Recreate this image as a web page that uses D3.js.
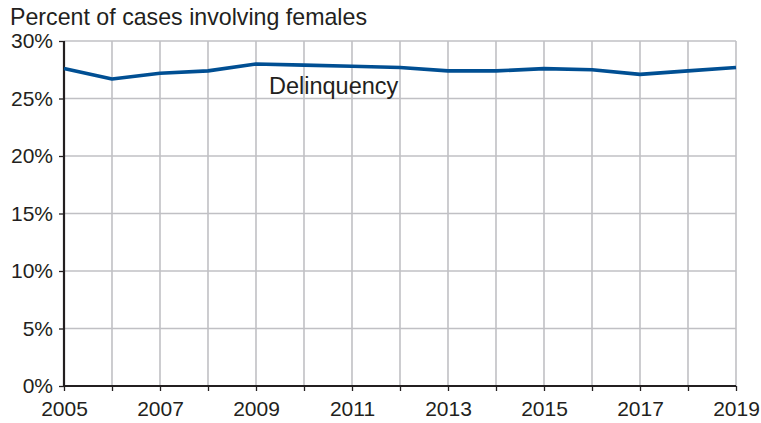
<!DOCTYPE html>
<html>
<head>
<meta charset="utf-8">
<script src="https://cdn.jsdelivr.net/npm/d3@7"></script>
<style>
  html, body { margin: 0; padding: 0; background: #fff; }
  svg { display: block; }
  text { font-family: "Liberation Sans", Arial, Helvetica, sans-serif; fill: #231f20; }
</style>
</head>
<body>
<svg id="chart" width="761" height="423"></svg>
<script>
const years = [2005, 2006, 2007, 2008, 2009, 2010, 2011, 2012, 2013, 2014, 2015, 2016, 2017, 2018, 2019];
const delinquency = [27.6, 26.7, 27.2, 27.4, 28.0, 27.9, 27.8, 27.7, 27.4, 27.4, 27.6, 27.5, 27.1, 27.4, 27.7];
const yTicks = [0, 5, 10, 15, 20, 25, 30];
const xLabelYears = [2005, 2007, 2009, 2011, 2013, 2015, 2017, 2019];
const title = "Percent of cases involving females";
const seriesLabel = "Delinquency";

const svg = d3.select("#chart");
const W = 761, H = 423;
const m = { left: 64, right: 25, top: 41, bottom: 37 };

const x = d3.scaleLinear().domain([2005, 2019]).range([m.left, W - m.right]);
const y = d3.scaleLinear().domain([0, 30]).range([H - m.bottom, m.top]);

// gridlines
const grid = svg.append("g").attr("stroke", "#c0c0c4").attr("stroke-width", 1.6);
grid.selectAll("line.v").data(years.slice(1)).join("line")
  .attr("x1", d => x(d)).attr("x2", d => x(d))
  .attr("y1", y(0)).attr("y2", y(30));
grid.selectAll("line.h").data(yTicks.slice(1)).join("line")
  .attr("x1", x(2005)).attr("x2", x(2019))
  .attr("y1", d => y(d)).attr("y2", d => y(d));

// y axis
const yAxis = d3.axisLeft(y).tickValues(yTicks).tickFormat(d => d + "%").tickSize(5).tickPadding(6);
const gy = svg.append("g").attr("transform", `translate(${m.left},0)`).call(yAxis);
gy.select(".domain").attr("stroke", "#231f20").attr("stroke-width", 2.2).attr("d", `M0,${y(30)}V${y(0)}`);
gy.selectAll(".tick line").attr("stroke", "#231f20").attr("stroke-width", 1.3);
gy.selectAll(".tick text").attr("font-size", 21).attr("fill", "#231f20")
  .style("font-family", '"Liberation Sans", Arial, Helvetica, sans-serif');

// x axis
const xAxis = d3.axisBottom(x).tickValues(years).tickFormat(d => xLabelYears.includes(d) ? String(d) : "").tickSize(5).tickPadding(10);
const gx = svg.append("g").attr("transform", `translate(0,${y(0)})`).call(xAxis);
gx.select(".domain").attr("stroke", "#231f20").attr("stroke-width", 2.2).attr("d", `M${x(2005)},0H${x(2019)}`);
gx.selectAll(".tick line").attr("stroke", "#231f20").attr("stroke-width", 1.3);
gx.selectAll(".tick text").attr("font-size", 21).attr("fill", "#231f20")
  .style("font-family", '"Liberation Sans", Arial, Helvetica, sans-serif');

// line
const line = d3.line().x((d, i) => x(years[i])).y(d => y(d));
svg.append("path").datum(delinquency)
  .attr("fill", "none").attr("stroke", "#004f93").attr("stroke-width", 3.6)
  .attr("stroke-linejoin", "round")
  .attr("d", line);

// series label
svg.append("text").attr("x", x(2009.27)).attr("y", y(25.35))
  .attr("font-size", 23.5).text(seriesLabel);

// title
svg.append("text").attr("x", 10).attr("y", 25).attr("font-size", 23.2).text(title);
</script>
</body>
</html>
